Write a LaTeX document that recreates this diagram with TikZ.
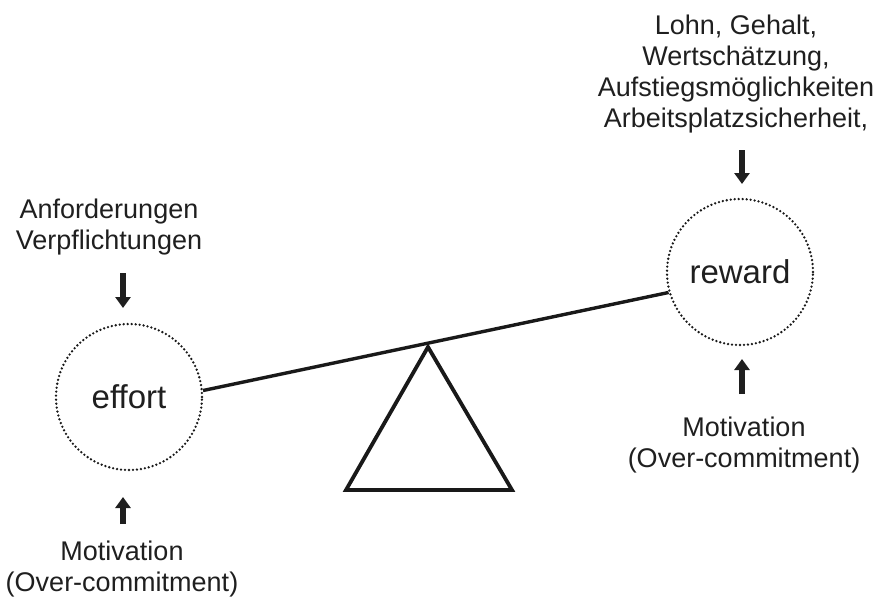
\documentclass[tikz,border=0pt]{standalone}
\usepackage{fontspec}
\setmainfont{Liberation Sans}
\usetikzlibrary{arrows.meta, positioning}

\begin{document}
\begin{tikzpicture}[x=1pt, y=-1pt,
    label text/.style={align=center, font=\fontsize{27}{31}\selectfont, text=black!88, inner sep=0pt},
    side/.style={circle, draw=black!90, line width=2.6pt, dash pattern=on 0pt off 4pt, line cap=round,
                 minimum size=146pt, inner sep=0pt, font=\fontsize{33}{36}\selectfont, text=black!88},
    push/.style={line width=6pt, black!88, -{Triangle[width=15pt, length=11pt]}},
    beam/.style={line width=3.4pt, black!90},
    fulcrum/.style={line width=3.8pt, black!90, line join=miter}]
  \useasboundingbox (0,0) rectangle (880,605);
  % the two scale pans
  \node[side] (effort) at (129,397) {effort};
  \node[side] (reward) at (740,272) {reward};
  % texts round them
  \node[label text] (demands) at (109,227) {Anforderungen\\Verpflichtungen};
  \node[label text] (motivL) at (122,569) {Motivation\\(Over-commitment)};
  \node[label text] (gains) at (736,74) {Lohn, Gehalt,\\Wertschätzung,\\Aufstiegsmöglichkeiten\\Arbeitsplatzsicherheit,};
  \node[label text] (motivR) at (744,445) {Motivation\\(Over-commitment)};
  % arrow ends
  \coordinate (dA) at (123,273); \coordinate (dB) at (123,308);
  \coordinate (mA) at (123,524); \coordinate (mB) at (123,497);
  \coordinate (gA) at (742,150); \coordinate (gB) at (742,184);
  \coordinate (rA) at (742,394); \coordinate (rB) at (742,359);
  \draw[push] (dA) -- (dB);
  \draw[push] (mA) -- (mB);
  \draw[push] (gA) -- (gB);
  \draw[push] (rA) -- (rB);
  % seesaw
  \coordinate (apex) at (428,347);
  \coordinate (baseL) at (346,490);
  \coordinate (baseR) at (512,490);
  \draw[fulcrum] (apex) -- (baseR) -- (baseL) -- cycle;
  \draw[beam] (effort.5) -- (reward.196);
\end{tikzpicture}
\end{document}
